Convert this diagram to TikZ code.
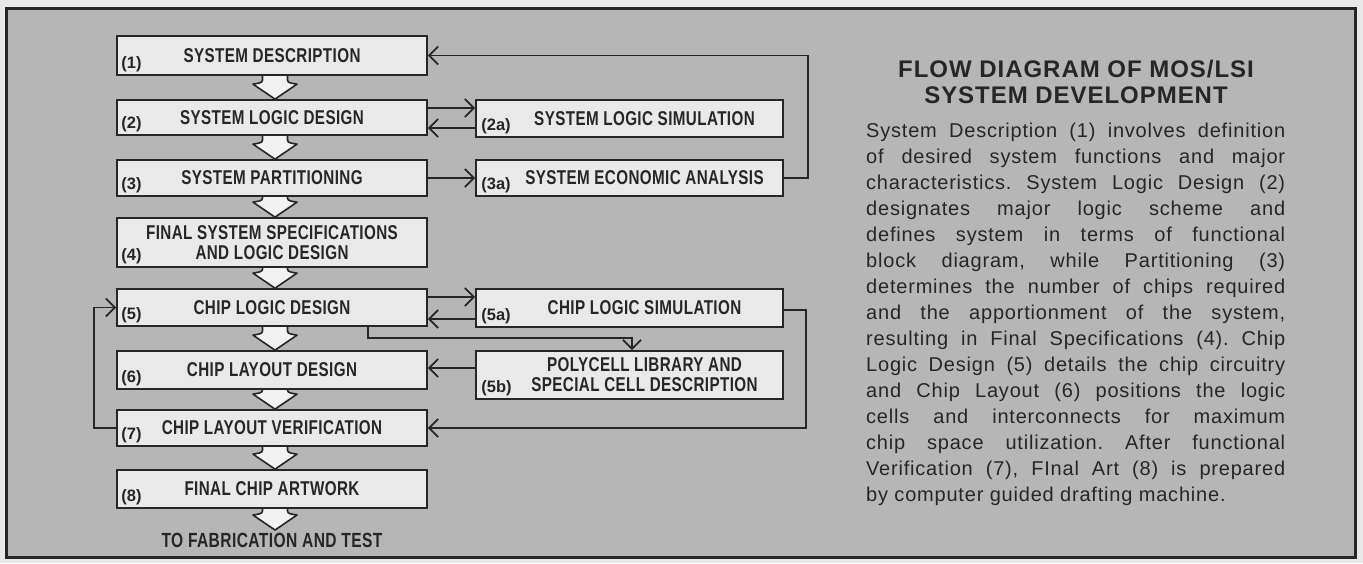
\documentclass[tikz,border=0pt]{standalone}
\usepackage{fontspec}
\setmainfont{Liberation Sans}
\newfontfamily\boxfont[FakeStretch=0.76,LetterSpace=2]{Liberation Sans}
\newfontfamily\bodyfont[LetterSpace=4]{Liberation Sans}
\newfontfamily\titlefont[LetterSpace=4]{Liberation Sans}
\usetikzlibrary{arrows.meta,calc}
\pgfdeclarelayer{bg}
\pgfdeclarelayer{arr}
\pgfsetlayers{bg,arr,main}
\definecolor{outside}{HTML}{E8E8E8}
\definecolor{panel}{HTML}{B6B6B6}
\definecolor{boxfill}{HTML}{E9E9E9}
\definecolor{ink}{HTML}{262626}
\tikzset{
  mainbox/.style={draw=ink, line width=1.7pt, fill=boxfill, rectangle, minimum width=310pt,
    inner sep=0pt, font=\boxfont\bfseries\fontsize{20}{20}\selectfont, text=ink, align=center},
  sidebox/.style={mainbox, minimum width=307pt},
  num/.style={font=\bfseries\fontsize{16.5}{16.5}\selectfont, inner sep=0pt, text=ink, anchor=south west},
  conn/.style={draw=ink, line width=1.8pt, -{Straight Barb[length=9pt,width=18pt]}},
  bigarrow/.pic={
    \path[draw=ink, line width=1.6pt, fill=white!95!black, line join=round]
      (-12.5,-32) -- (-12.5,-19) .. controls (-12.5,-16) and (-17,-16) .. (-22,-15)
      -- (0,0) -- (22,-15) .. controls (17,-16) and (12.5,-16) .. (12.5,-19)
      -- (12.5,-32) -- cycle;
  }
}
\begin{document}
\frenchspacing
\begin{tikzpicture}[x=1pt,y=-1pt]
\useasboundingbox (0,0) rectangle (1363,563);
\begin{pgfonlayer}{bg}
  \fill[outside] (0,0) rectangle (1363,563);
  \draw[draw=ink, line width=3pt, fill=panel] (6,8) rectangle (1355,557);
\end{pgfonlayer}

% main column
\node[mainbox, minimum height=39pt] (b1) at (272,55.5) {SYSTEM DESCRIPTION};
\node[mainbox, minimum height=35pt] (b2) at (272,117.5) {SYSTEM LOGIC DESIGN};
\node[mainbox, minimum height=36pt] (b3) at (272,178) {SYSTEM PARTITIONING};
\node[mainbox, minimum height=49pt] (b4) at (272,242.5) {FINAL SYSTEM SPECIFICATIONS\\AND LOGIC DESIGN};
\node[mainbox, minimum height=37pt] (b5) at (272,307.5) {CHIP LOGIC DESIGN};
\node[mainbox, minimum height=38pt] (b6) at (272,370) {CHIP LAYOUT DESIGN};
\node[mainbox, minimum height=36pt] (b7) at (272,428) {CHIP LAYOUT VERIFICATION};
\node[mainbox, minimum height=38pt] (b8) at (272,489) {FINAL CHIP ARTWORK};
\node[inner sep=0pt, font=\boxfont\bfseries\fontsize{20.5}{20.5}\selectfont, text=ink] (fab) at (272,540.5) {TO FABRICATION AND TEST};

% side column
\node[sidebox, minimum height=37pt] (b2a) at (629.5,118.5) {\hspace*{30pt}SYSTEM LOGIC SIMULATION};
\node[sidebox, minimum height=36pt] (b3a) at (629.5,178) {\hspace*{30pt}SYSTEM ECONOMIC ANALYSIS};
\node[sidebox, minimum height=38pt] (b5a) at (629.5,308) {\hspace*{30pt}CHIP LOGIC SIMULATION};
\node[sidebox, minimum height=48pt] (b5b) at (629.5,375) {\hspace*{30pt}POLYCELL LIBRARY AND\\\hspace*{30pt}SPECIAL CELL DESCRIPTION};

% step numbers
\node[num] (n1) at ($(b1.south west)+(5,-4)$) {(1)};
\node[num] (n2) at ($(b2.south west)+(5,-4)$) {(2)};
\node[num] (n3) at ($(b3.south west)+(5,-4)$) {(3)};
\node[num] (n4) at ($(b4.south west)+(5,-4)$) {(4)};
\node[num] (n5) at ($(b5.south west)+(5,-4)$) {(5)};
\node[num] (n6) at ($(b6.south west)+(5,-4)$) {(6)};
\node[num] (n7) at ($(b7.south west)+(5,-4)$) {(7)};
\node[num] (n8) at ($(b8.south west)+(5,-4)$) {(8)};
\node[num] (n2a) at ($(b2a.south west)+(6,-4)$) {(2a)};
\node[num] (n3a) at ($(b3a.south west)+(6,-4)$) {(3a)};
\node[num] (n5a) at ($(b5a.south west)+(6,-4)$) {(5a)};
\node[num] (n5b) at ($(b5b.south west)+(6,-4)$) {(5b)};

% hollow flow arrows
\begin{pgfonlayer}{arr}
  \pic at ($(b2.north)+(3,0)$) {bigarrow};
  \pic at ($(b3.north)+(3,0)$) {bigarrow};
  \pic at ($(b4.north)+(3,0)$) {bigarrow};
  \pic at ($(b5.north)+(3,0)$) {bigarrow};
  \pic at ($(b6.north)+(3,0)$) {bigarrow};
  \pic at ($(b7.north)+(3,0)$) {bigarrow};
  \pic at ($(b8.north)+(3,0)$) {bigarrow};
  \pic at ($(fab.north)+(3,-3)$) {bigarrow};
\end{pgfonlayer}

% connectors
\draw[conn] ($(b2.east)+(0,-9.5)$) -- ($(b2a.west)+(0,-10.5)$);
\draw[conn] ($(b2a.west)+(0,9.5)$) -- ($(b2.east)+(0,10.5)$);
\draw[conn] (b3.east) -- (b3a.west);
\draw[conn] (b3a.east) -- ++(24,0) |- (b1.east);
\draw[conn] ($(b5.east)+(0,-10.5)$) -- ($(b5a.west)+(0,-11)$);
\draw[conn] ($(b5a.west)+(0,11)$) -- ($(b5.east)+(0,11.5)$);
\draw[conn] ($(b5.south)+(96,0)$) -- ++(0,11) -| ($(b5b.north)+(2.5,0)$);
\draw[conn] ($(b5b.west)+(0,-7)$) -- ($(b6.east)+(0,-2)$);
\draw[conn] ($(b5a.east)+(0,2)$) -- ++(22,0) |- (b7.east);
\draw[conn] (b7.west) -- ++(-22,0) |- (b5.west);

% description
\node[anchor=north, align=center, inner sep=0pt, text=ink,
      font=\titlefont\bfseries\fontsize{24}{26}\selectfont] (title) at (1076,59.5)
  {FLOW DIAGRAM OF MOS/LSI\\SYSTEM DEVELOPMENT};
\node[anchor=north west, align=left, inner sep=0pt, text=ink,
      font=\bodyfont\fontsize{20}{26}\selectfont] (body) at (866,122.4)
  {\makebox[419pt][s]{System Description (1) involves definition}\\
   \makebox[419pt][s]{of desired system functions and major}\\
   \makebox[419pt][s]{characteristics. System Logic Design (2)}\\
   \makebox[419pt][s]{designates major logic scheme and}\\
   \makebox[419pt][s]{defines system in terms of functional}\\
   \makebox[419pt][s]{block diagram, while Partitioning (3)}\\
   \makebox[419pt][s]{determines the number of chips required}\\
   \makebox[419pt][s]{and the apportionment of the system,}\\
   \makebox[419pt][s]{resulting in Final Specifications (4). Chip}\\
   \makebox[419pt][s]{Logic Design (5) details the chip circuitry}\\
   \makebox[419pt][s]{and Chip Layout (6) positions the logic}\\
   \makebox[419pt][s]{cells and interconnects for maximum}\\
   \makebox[419pt][s]{chip space utilization. After functional}\\
   \makebox[419pt][s]{Verification (7), FInal Art (8) is prepared}\\
   by computer guided drafting machine.};
\end{tikzpicture}
\end{document}
